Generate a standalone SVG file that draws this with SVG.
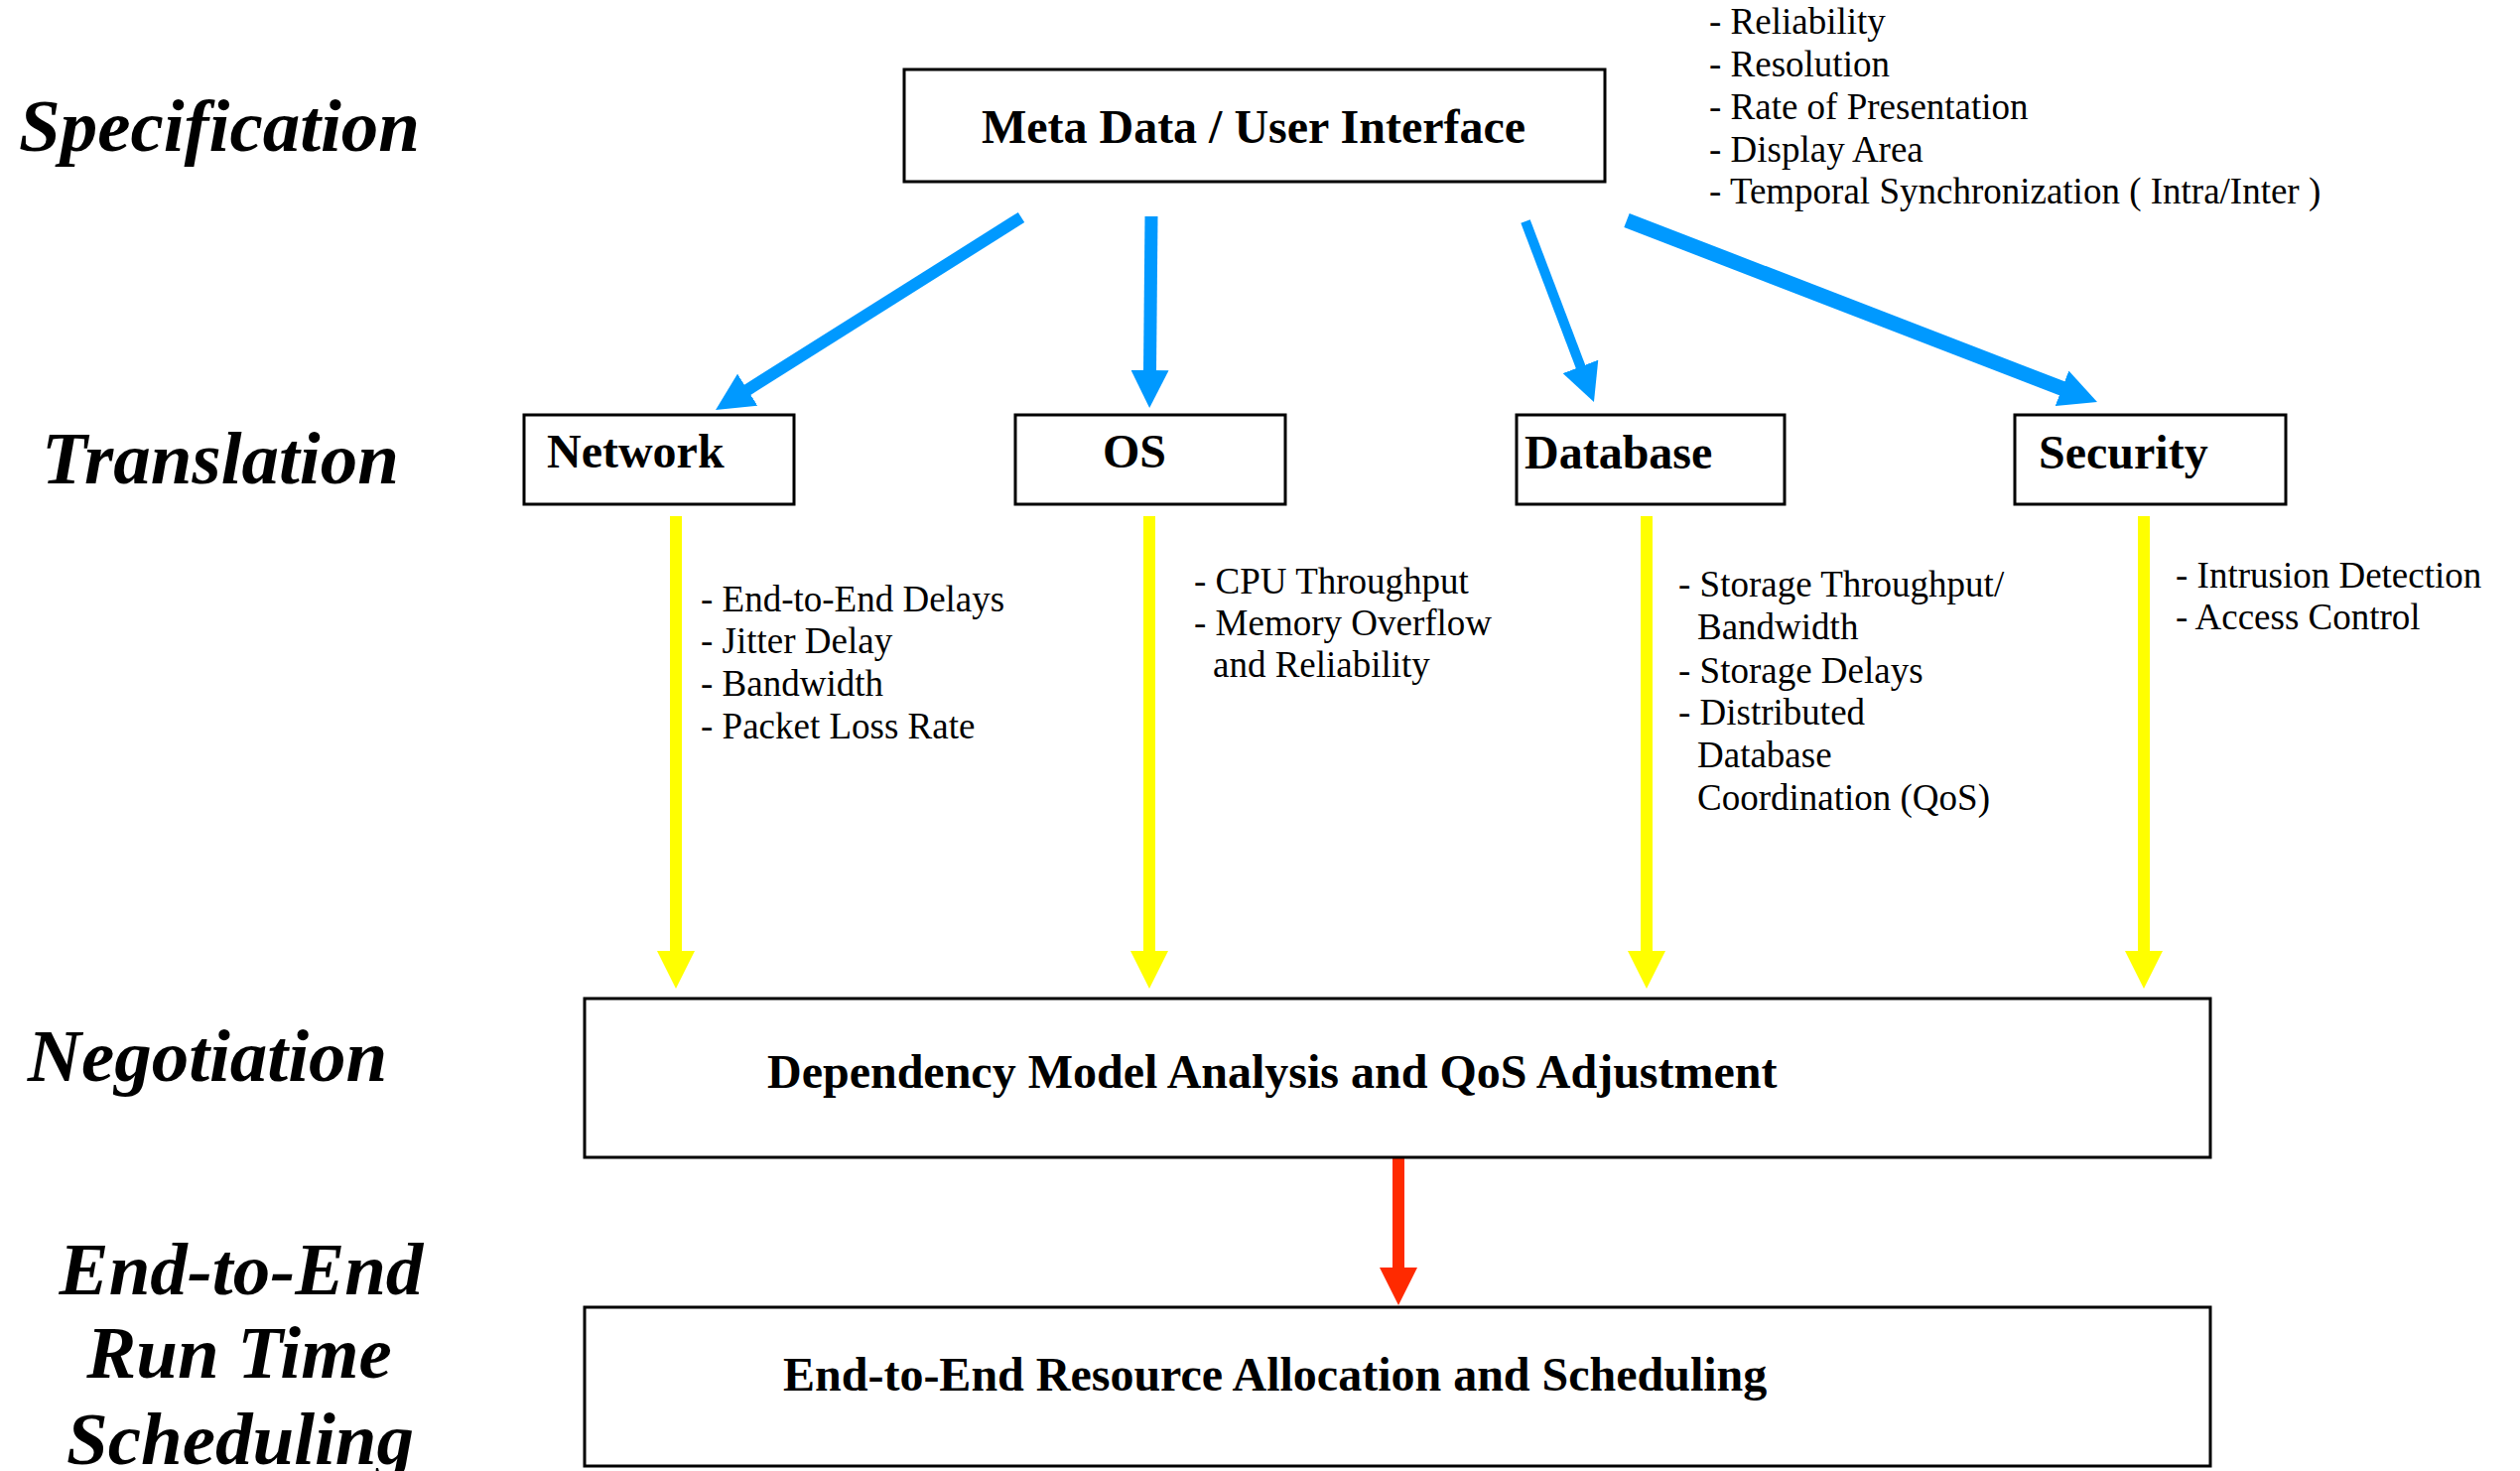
<svg xmlns="http://www.w3.org/2000/svg" width="2539" height="1482" viewBox="0 0 2539 1482">
<defs>
<style>
.box{fill:#ffffff;stroke:#000000;stroke-width:3}
.stage{font-family:"Liberation Serif",serif;font-weight:bold;font-style:italic;font-size:75px;fill:#000;text-anchor:middle}
.lbl{font-family:"Liberation Serif",serif;font-weight:bold;font-size:48px;fill:#000}
.note{font-family:"Liberation Serif",serif;font-size:37px;fill:#000}
.blue{stroke:#0099ff;fill:none;stroke-linecap:butt}
.yellow{stroke:#ffff00;stroke-width:12;fill:none}
.red{stroke:#ff2a00;stroke-width:12;fill:none}
</style>
<marker id="hb" markerUnits="userSpaceOnUse" markerWidth="38" markerHeight="38" viewBox="0 -19 38 38" refX="2" refY="0" orient="auto"><path d="M0,-19 L38,0 L0,19 z" fill="#0099ff"/></marker>
<marker id="hy" markerUnits="userSpaceOnUse" markerWidth="38" markerHeight="38" viewBox="0 -19 38 38" refX="2" refY="0" orient="auto"><path d="M0,-19 L38,0 L0,19 z" fill="#ffff00"/></marker>
<marker id="hr" markerUnits="userSpaceOnUse" markerWidth="38" markerHeight="38" viewBox="0 -19 38 38" refX="2" refY="0" orient="auto"><path d="M0,-19 L38,0 L0,19 z" fill="#ff2a00"/></marker>
</defs>
<rect x="0" y="0" width="2539" height="1482" fill="#ffffff"/>

<g id="stages">
<text class="stage" x="221" y="152">Specification</text>
<text class="stage" x="222" y="487">Translation</text>
<text class="stage" x="209" y="1089">Negotiation</text>
<text class="stage" x="243" y="1304">End-to-End</text>
<text class="stage" x="241" y="1388">Run Time</text>
<text class="stage" x="242" y="1475">Scheduling</text>
</g>

<g id="connectors">
<line class="blue" stroke-width="12" x1="1029" y1="219" x2="751.5" y2="393.8" marker-end="url(#hb)"/>
<line class="blue" stroke-width="13" x1="1160" y1="218" x2="1158.5" y2="375" marker-end="url(#hb)"/>
<line class="blue" stroke-width="10" x1="1537" y1="223" x2="1593.2" y2="371.3" marker-end="url(#hb)"/>
<line class="blue" stroke-width="15" x1="1639" y1="222" x2="2079.4" y2="392" marker-end="url(#hb)"/>
<line class="yellow" x1="681" y1="520" x2="681" y2="960" marker-end="url(#hy)"/>
<line class="yellow" x1="1158" y1="520" x2="1158" y2="960" marker-end="url(#hy)"/>
<line class="yellow" x1="1659" y1="520" x2="1659" y2="960" marker-end="url(#hy)"/>
<line class="yellow" x1="2160" y1="520" x2="2160" y2="960" marker-end="url(#hy)"/>
<line class="red" x1="1409" y1="1167" x2="1409" y2="1279" marker-end="url(#hr)"/>
</g>

<g id="meta">
<rect class="box" x="911" y="70" width="706" height="113"/>
<text class="lbl" x="1263" y="144" text-anchor="middle">Meta Data / User Interface</text>
</g>
<g id="meta-notes">
<text class="note" x="1722" y="34">- Reliability</text>
<text class="note" x="1722" y="77">- Resolution</text>
<text class="note" x="1722" y="120">- Rate of Presentation</text>
<text class="note" x="1722" y="163">- Display Area</text>
<text class="note" x="1722" y="205">- Temporal Synchronization ( Intra/Inter )</text>
</g>

<g id="network">
<rect class="box" x="528" y="418" width="272" height="90"/>
<text class="lbl" x="551" y="471">Network</text>
</g>
<g id="os">
<rect class="box" x="1023" y="418" width="272" height="90"/>
<text class="lbl" x="1111" y="471">OS</text>
</g>
<g id="database">
<rect class="box" x="1528" y="418" width="270" height="90"/>
<text class="lbl" x="1536" y="472">Database</text>
</g>
<g id="security">
<rect class="box" x="2030" y="418" width="273" height="90"/>
<text class="lbl" x="2054" y="472">Security</text>
</g>

<g id="network-notes">
<text class="note" x="706" y="616">- End-to-End Delays</text>
<text class="note" x="706" y="658">- Jitter Delay</text>
<text class="note" x="706" y="701">- Bandwidth</text>
<text class="note" x="706" y="744">- Packet Loss Rate</text>
</g>
<g id="os-notes">
<text class="note" x="1203" y="598">- CPU Throughput</text>
<text class="note" x="1203" y="640">- Memory Overflow</text>
<text class="note" x="1222" y="682">and Reliability</text>
</g>
<g id="database-notes">
<text class="note" x="1691" y="601">- Storage Throughput/</text>
<text class="note" x="1710" y="644">Bandwidth</text>
<text class="note" x="1691" y="688">- Storage Delays</text>
<text class="note" x="1691" y="730">- Distributed</text>
<text class="note" x="1710" y="773">Database</text>
<text class="note" x="1710" y="816">Coordination (QoS)</text>
</g>
<g id="security-notes">
<text class="note" x="2192" y="592">- Intrusion Detection</text>
<text class="note" x="2192" y="634">- Access Control</text>
</g>

<g id="negotiation">
<rect class="box" x="589" y="1006" width="1638" height="160"/>
<text class="lbl" x="773" y="1096">Dependency Model Analysis and QoS Adjustment</text>
</g>
<g id="scheduling">
<rect class="box" x="589" y="1317" width="1638" height="160"/>
<text class="lbl" x="789" y="1401">End-to-End Resource Allocation and Scheduling</text>
</g>
</svg>
